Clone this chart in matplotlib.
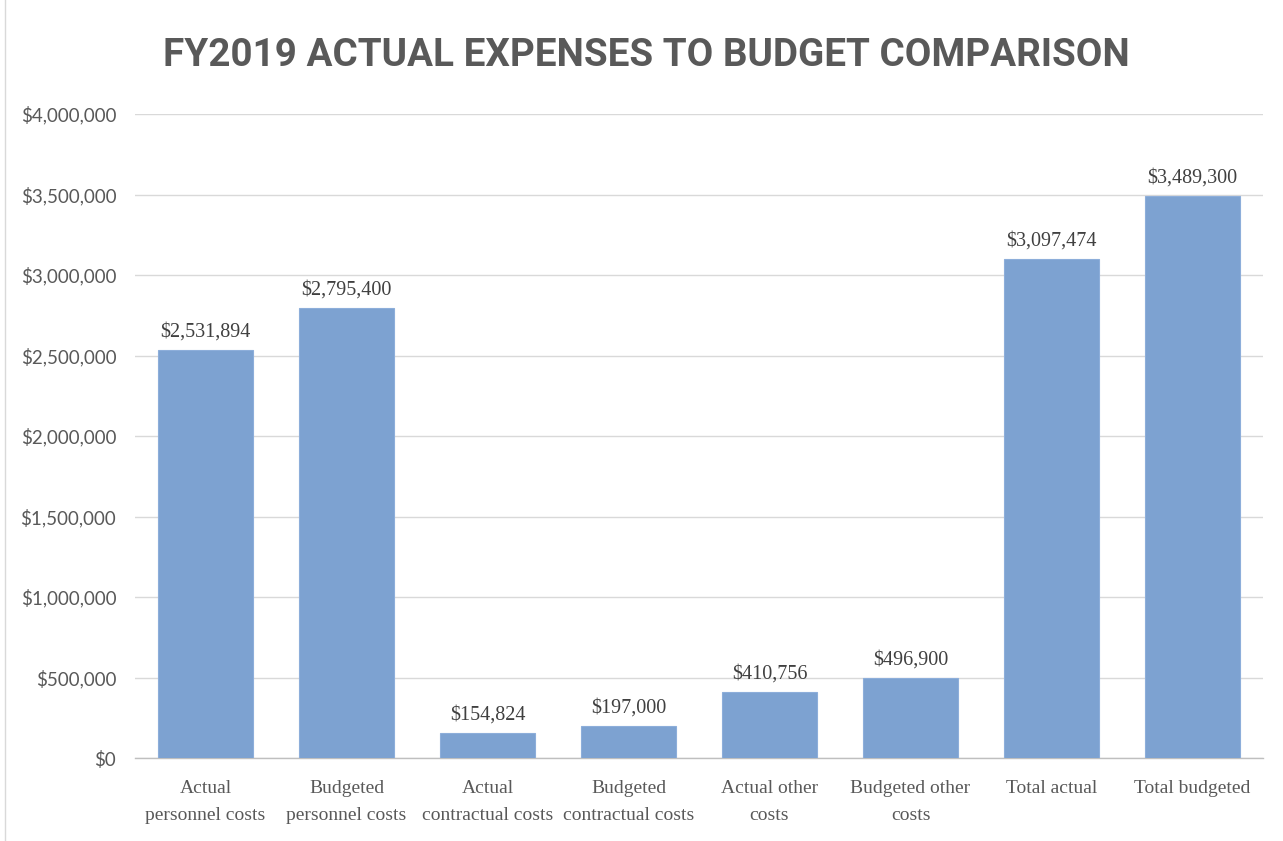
import matplotlib
matplotlib.use("Agg")
import matplotlib.pyplot as plt
from matplotlib import font_manager as fm
from matplotlib.ticker import FuncFormatter, MultipleLocator

categories = ["Actual\npersonnel costs", "Budgeted\npersonnel costs",
              "Actual\ncontractual costs", "Budgeted\ncontractual costs",
              "Actual other\ncosts", "Budgeted other\ncosts",
              "Total actual", "Total budgeted"]
values = [2531894, 2795400, 154824, 197000, 410756, 496900, 3097474, 3489300]
title = "FY2019 ACTUAL EXPENSES TO BUDGET COMPARISON"

names = {f.name for f in fm.fontManager.ttflist}
title_font = "Roboto" if "Roboto" in names else "Liberation Sans"
serif = "Liberation Serif"
sans = "Lato" if "Lato" in names else "DejaVu Sans"

W, H = 1283, 841
fig = plt.figure(figsize=(W / 100, H / 100), dpi=100)
fig.patch.set_facecolor("white")

L, R, B, T = 135, 1263, 758, 114
ax = fig.add_axes([L / W, 1 - B / H, (R - L) / W, (B - T) / H])

x = list(range(len(categories)))
bars = ax.bar(x, values, width=0.67, color="#7DA2D1", edgecolor="#8DAEDA", linewidth=0.8, zorder=3)

ax.set_xlim(-0.5, len(categories) - 0.5)
ax.set_ylim(0, 4000000)
ax.yaxis.set_major_locator(MultipleLocator(500000))
ax.yaxis.set_major_formatter(FuncFormatter(lambda v, p: f"${v:,.0f}"))
ax.grid(axis="y", color="#D9D9D9", linewidth=1, zorder=0)
for s in ["top", "right", "left"]:
    ax.spines[s].set_visible(False)
ax.spines["bottom"].set_color("#BFBFBF")
ax.spines["bottom"].set_linewidth(1)
ax.tick_params(axis="y", length=0, pad=13.5, labelsize=13.5, labelcolor="#595959")
ax.tick_params(axis="x", length=0, pad=16)
for lab in ax.get_yticklabels():
    lab.set_fontfamily(sans)
ax.set_xticks(x)
ax.set_xticklabels(categories, fontfamily=serif, fontsize=14, color="#595959", linespacing=1.75)

for xi, v in zip(x, values):
    ax.annotate(f"${v:,.0f}", (xi, v), xytext=(0, 6), textcoords="offset points",
                ha="center", va="bottom", fontfamily=serif, fontsize=14.5, color="#404040")

fig.text(646 / W, 1 - 56 / H, title, ha="center", va="center", fontfamily=title_font,
         fontweight="bold", fontsize=27.8, color="#595959")

fig.add_artist(plt.Line2D([5 / W, 5 / W], [0, 1], color="#D9D9D9", linewidth=1))

fig.savefig("out.png", dpi=100, facecolor="white")
